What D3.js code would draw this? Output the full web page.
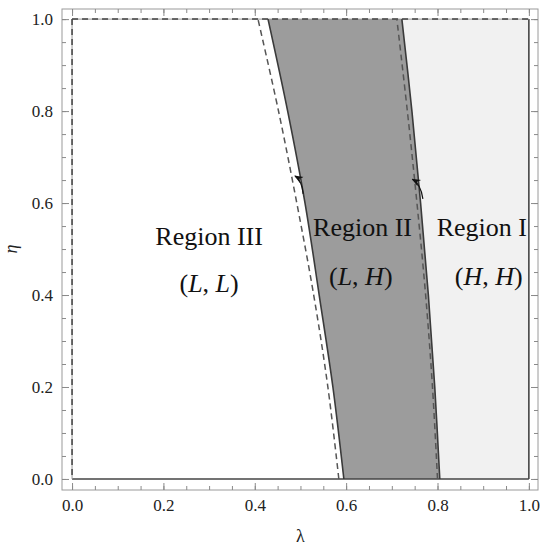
<!DOCTYPE html>
<html>
<head>
<meta charset="utf-8">
<script src="https://cdn.jsdelivr.net/npm/d3@7"></script>
<style>
  body { margin: 0; background: #fff; }
</style>
</head>
<body>
<div id="chart"></div>
<script>
// boundary curves: lambda value at each eta
var etaGrid     = [0, 0.2, 0.4, 0.6, 0.8, 1.0];
var leftSolid   = [0.595, 0.571, 0.541, 0.510, 0.472, 0.429];
var leftDashed  = [0.584, 0.560, 0.529, 0.492, 0.452, 0.407];
var rightSolid  = [0.805, 0.794, 0.780, 0.763, 0.744, 0.722];
var rightDashed = [0.800, 0.789, 0.774, 0.755, 0.734, 0.711];

var majorTicks = [0, 0.2, 0.4, 0.6, 0.8, 1.0];
var minorTicks = d3.range(0, 1.0001, 0.05);

// region labels: name, strategy pair, lambda, eta of name / pair
var regionNames = ["Region III", "Region II", "Region I"];
var regionPairs = [["L", "L"], ["L", "H"], ["H", "H"]];
var labelLam    = [0.300, 0.636, 0.897];
var pairLam     = [0.300, 0.632, 0.912];
var labelEta    = [0.509, 0.528, 0.528];
var pairEta     = [0.407, 0.422, 0.422];

// arrows: tail, control, head in data units
var arrows = [
  [[0.506, 0.620], [0.503, 0.650], [0.488, 0.659]],
  [[0.768, 0.609], [0.764, 0.641], [0.745, 0.652]]
];

var SERIF = "'Liberation Serif', 'Times New Roman', serif";

function init() {
  var w = 550, h = 548;
  var svg = d3.select("#chart").append("svg")
    .attr("width", w).attr("height", h);

  var x = d3.scaleLinear().domain([-0.022, 1.02]).range([62, 538]);
  var y = d3.scaleLinear().domain([-0.024, 1.022]).range([490, 9]);

  function rows(lams) {
    return etaGrid.map(function(e, i) { return { eta: e, lam: lams[i] }; });
  }

  var band = etaGrid.map(function(e, i) {
    return { eta: e, l: leftSolid[i], r: rightSolid[i] };
  });

  // light region I
  svg.append("path")
    .datum(band)
    .attr("d", d3.area().curve(d3.curveCatmullRom)
      .y(function(d) { return y(d.eta); })
      .x0(function(d) { return x(d.r); })
      .x1(x(1)))
    .attr("fill", "#f1f1f1");

  // dark region II
  svg.append("path")
    .datum(band)
    .attr("d", d3.area().curve(d3.curveCatmullRom)
      .y(function(d) { return y(d.eta); })
      .x0(function(d) { return x(d.l); })
      .x1(function(d) { return x(d.r); }))
    .attr("fill", "#9c9c9c");

  var line = d3.line().curve(d3.curveCatmullRom)
    .x(function(d) { return x(d.lam); })
    .y(function(d) { return y(d.eta); });

  // outer edges of the unit square
  svg.append("line")
    .attr("x1", x(0)).attr("x2", x(1)).attr("y1", y(0)).attr("y2", y(0))
    .attr("stroke", "#444").attr("stroke-width", 1.6);
  svg.append("line")
    .attr("x1", x(1)).attr("x2", x(1)).attr("y1", y(0)).attr("y2", y(1))
    .attr("stroke", "#444").attr("stroke-width", 1.6);
  svg.append("line")
    .attr("x1", x(0)).attr("x2", x(1)).attr("y1", y(1)).attr("y2", y(1))
    .attr("stroke", "#999").attr("stroke-width", 1);
  svg.append("line")
    .attr("x1", x(0)).attr("x2", x(0)).attr("y1", y(0)).attr("y2", y(1))
    .attr("stroke", "#999").attr("stroke-width", 1);
  svg.append("line")
    .attr("x1", x(0)).attr("x2", x(1)).attr("y1", y(1)).attr("y2", y(1))
    .attr("stroke", "#444").attr("stroke-width", 1.5)
    .attr("stroke-dasharray", "6,4");
  svg.append("line")
    .attr("x1", x(0)).attr("x2", x(0)).attr("y1", y(1)).attr("y2", y(0))
    .attr("stroke", "#444").attr("stroke-width", 1.5)
    .attr("stroke-dasharray", "6,4");

  // dashed curves
  [leftDashed, rightDashed].forEach(function(s) {
    svg.append("path").datum(rows(s))
      .attr("d", line)
      .attr("fill", "none")
      .attr("stroke", "#555")
      .attr("stroke-width", 1.5)
      .attr("stroke-dasharray", "6,4");
  });

  // solid curves
  [leftSolid, rightSolid].forEach(function(s) {
    svg.append("path").datum(rows(s))
      .attr("d", line)
      .attr("fill", "none")
      .attr("stroke", "#3a3a3a")
      .attr("stroke-width", 1.6);
  });

  // arrows
  svg.append("defs").append("marker")
    .attr("id", "head")
    .attr("viewBox", "0 0 10 10")
    .attr("refX", 9).attr("refY", 5)
    .attr("markerWidth", 9).attr("markerHeight", 9)
    .attr("markerUnits", "userSpaceOnUse")
    .attr("orient", "auto")
    .append("path")
    .attr("d", "M0,1 L10,5 L0,9 L3,5 Z")
    .attr("fill", "#111");

  arrows.forEach(function(a) {
    var p = d3.path();
    p.moveTo(x(a[0][0]), y(a[0][1]));
    p.quadraticCurveTo(x(a[1][0]), y(a[1][1]), x(a[2][0]), y(a[2][1]));
    svg.append("path")
      .attr("d", p.toString())
      .attr("fill", "none")
      .attr("stroke", "#111")
      .attr("stroke-width", 1.2)
      .attr("marker-end", "url(#head)");
  });

  // frame
  svg.append("rect")
    .attr("x", x.range()[0]).attr("y", y.range()[1])
    .attr("width", x.range()[1] - x.range()[0])
    .attr("height", y.range()[0] - y.range()[1])
    .attr("fill", "none").attr("stroke", "#9a9a9a").attr("stroke-width", 1);

  var fmt = d3.format(".1f");

  function styleAxis(g) {
    g.attr("font-family", null).attr("font-size", null);
    g.select(".domain").remove();
    g.selectAll("line").attr("stroke", "#8a8a8a");
    g.selectAll("text")
      .style("font-family", SERIF)
      .style("font-size", "17px")
      .attr("fill", "#222");
  }

  // minor ticks all sides
  var sides = [
    [d3.axisBottom(x), "translate(0," + y.range()[0] + ")"],
    [d3.axisTop(x), "translate(0," + y.range()[1] + ")"],
    [d3.axisLeft(y), "translate(" + x.range()[0] + ",0)"],
    [d3.axisRight(y), "translate(" + x.range()[1] + ",0)"]
  ];
  sides.forEach(function(s) {
    svg.append("g").attr("transform", s[1])
      .call(s[0].tickValues(minorTicks).tickSize(-4).tickFormat(""))
      .call(styleAxis);
  });

  // major ticks with labels on bottom and left
  svg.append("g").attr("transform", "translate(0," + y.range()[0] + ")")
    .call(d3.axisBottom(x).tickValues(majorTicks).tickSize(-7)
      .tickPadding(9).tickFormat(fmt))
    .call(styleAxis);
  svg.append("g").attr("transform", "translate(" + x.range()[0] + ",0)")
    .call(d3.axisLeft(y).tickValues(majorTicks).tickSize(-7)
      .tickPadding(9).tickFormat(fmt))
    .call(styleAxis);
  svg.append("g").attr("transform", "translate(0," + y.range()[1] + ")")
    .call(d3.axisTop(x).tickValues(majorTicks).tickSize(-7).tickFormat(""))
    .call(styleAxis);
  svg.append("g").attr("transform", "translate(" + x.range()[1] + ",0)")
    .call(d3.axisRight(y).tickValues(majorTicks).tickSize(-7).tickFormat(""))
    .call(styleAxis);

  // axis titles
  svg.append("text")
    .attr("x", x(0.5)).attr("y", 542)
    .attr("text-anchor", "middle")
    .style("font-family", SERIF).style("font-size", "18px")
    .attr("fill", "#222")
    .text("λ");
  svg.append("text")
    .attr("transform", "translate(17," + y(0.5) + ") rotate(-90)")
    .attr("text-anchor", "middle")
    .style("font-family", SERIF).style("font-size", "18px")
    .attr("font-style", "italic").attr("fill", "#222")
    .text("η");

  // region labels
  regionNames.forEach(function(name, i) {
    svg.append("text")
      .attr("x", x(labelLam[i])).attr("y", y(labelEta[i]))
      .attr("text-anchor", "middle")
      .style("font-family", SERIF).style("font-size", "26px")
      .attr("fill", "#111")
      .text(name);

    var t = svg.append("text")
      .attr("x", x(pairLam[i])).attr("y", y(pairEta[i]))
      .attr("text-anchor", "middle")
      .style("font-family", SERIF).style("font-size", "26px")
      .attr("fill", "#111");
    t.append("tspan").text("(");
    t.append("tspan").attr("font-style", "italic").text(regionPairs[i][0]);
    t.append("tspan").text(", ");
    t.append("tspan").attr("font-style", "italic").text(regionPairs[i][1]);
    t.append("tspan").text(")");
  });
}
window.onload = init;
</script>
</body>
</html>
